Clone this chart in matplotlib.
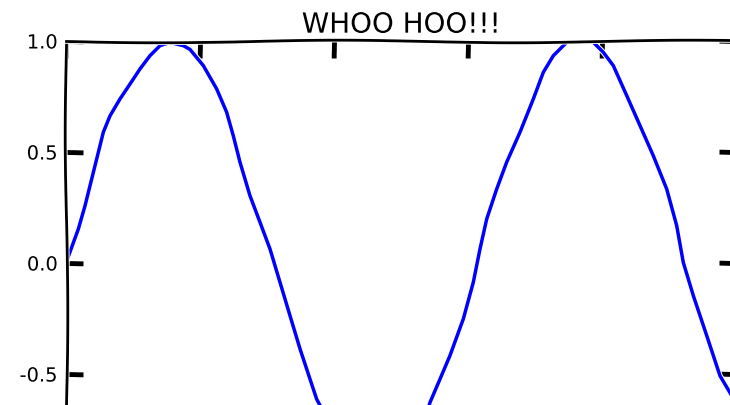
import matplotlib
matplotlib.use('Agg')
import matplotlib.pyplot as plt

# curve values (bottom part is hidden there, estimated)
x_vals = [0.00, 0.085, 0.184, 0.284, 0.383, 0.483, 0.557, 0.657, 0.806, 0.955,
          1.104, 1.254, 1.403, 1.552, 1.652, 1.751, 1.851, 2.050, 2.249, 2.398,
          2.497, 2.597, 2.746, 2.896, 3.045, 3.194, 3.343, 3.493, 3.642, 3.741,
          4.000, 4.300, 4.600, 4.900, 5.200, 5.433, 5.582, 5.731, 5.930, 6.079,
          6.179, 6.279, 6.428, 6.577, 6.776, 6.975, 7.124, 7.274, 7.473, 7.670,
          7.871, 8.020, 8.169, 8.369, 8.567, 8.766, 8.966, 9.115, 9.213, 9.363,
          9.563, 9.761, 10.00]
y_vals = [0.000, 0.071, 0.153, 0.258, 0.378, 0.499, 0.589, 0.663, 0.739, 0.806,
          0.874, 0.934, 0.979, 0.994, 0.986, 0.979, 0.962, 0.889, 0.784, 0.679,
          0.573, 0.454, 0.303, 0.183, 0.063, -0.087, -0.237, -0.387, -0.523, -0.613,
          -0.760, -0.920, -0.995, -0.980, -0.860, -0.628, -0.523, -0.417, -0.252, -0.087,
          0.063, 0.198, 0.333, 0.454, 0.589, 0.739, 0.859, 0.934, 0.994, 1.000,
          0.994, 0.949, 0.889, 0.754, 0.619, 0.483, 0.333, 0.168, 0.003, -0.147,
          -0.327, -0.508, -0.630]

x_ticks = [0, 2, 4, 6, 8, 10]
y_ticks = [-0.5, 0.0, 0.5, 1.0]
title = 'WHOO HOO!!!'

with plt.xkcd(scale=1.3, length=400, randomness=2):
    plt.rcParams['font.family'] = ['DejaVu Sans']
    plt.rcParams['font.size'] = 14

    fig = plt.figure(figsize=(7.3, 4.06), dpi=100)
    # axes runs past the right and bottom edges, like the cropped original
    ax = fig.add_axes([66 / 730, 1 - 486 / 406, 670 / 730, 444 / 406])

    line, = ax.plot(x_vals, y_vals, color='b', lw=2.5)
    line.set_sketch_params(None)

    ax.set_xlim(0, 10)
    ax.set_ylim(-1, 1)
    ax.set_xticks(x_ticks)
    ax.set_yticks(y_ticks)
    ax.set_xticklabels([])
    ax.tick_params(direction='in', length=12, width=3.5, top=True, right=True, pad=6)
    for s in ax.spines.values():
        s.set_linewidth(2)

    ax.set_title(title, fontsize=20, pad=6)

    fig.savefig('out.png', dpi=100)
